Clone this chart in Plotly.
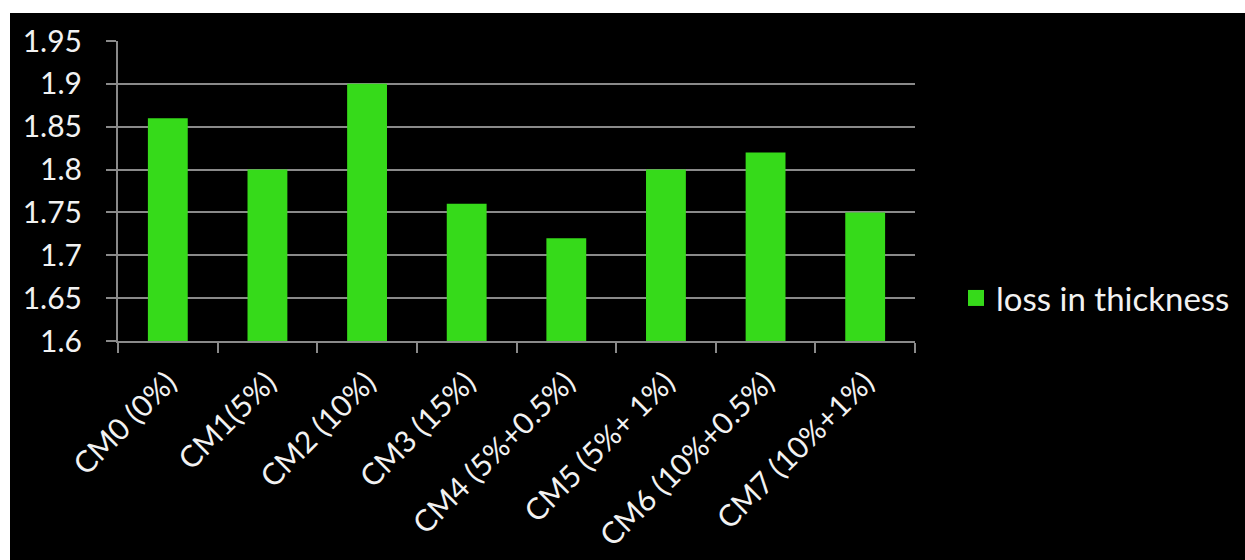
import plotly.graph_objects as go

# Loss in thickness per mix
categories = ["CM0 (0%)", "CM1(5%)", "CM2 (10%)", "CM3 (15%)",
              "CM4 (5%+0.5%)", "CM5 (5%+ 1%)", "CM6 (10%+0.5%)", "CM7 (10%+1%)"]
loss_in_thickness = [1.86, 1.80, 1.90, 1.76, 1.72, 1.80, 1.82, 1.75]
y_ticks = [1.6, 1.65, 1.7, 1.75, 1.8, 1.85, 1.9, 1.95]
y_tick_text = ["1.6", "1.65", "1.7", "1.75", "1.8", "1.85", "1.9", "1.95"]
series_name = "loss in thickness"

W, H = 1245, 560
L, R, T, B = 118, 330, 41, 219
pw, ph = W - L - R, H - T - B

GREEN = "#36DA1A"
GRID = "#8A8A8A"
TEXT = "#F2F2F2"
FONT = "Lato, 'Open Sans', sans-serif"

fig = go.Figure()
fig.add_trace(go.Bar(
    x=categories, y=loss_in_thickness, name=series_name, showlegend=False,
    legendgroup="s", marker=dict(color=GREEN, line=dict(width=0)),
))
# square legend swatch for the series
fig.add_trace(go.Scatter(
    x=[None], y=[None], mode="markers", name=series_name, legendgroup="s",
    marker=dict(symbol="square", size=20, color=GREEN),
))

# black canvas inset from the page edge
fig.add_shape(type="rect", xref="paper", yref="paper", layer="below",
              x0=(10 - L) / pw, x1=(W - L) / pw,
              y0=-(H - T - ph) / ph - 0.01, y1=1 + (T - 13) / ph,
              fillcolor="black", line=dict(width=0))

fig.update_layout(
    width=W, height=H,
    margin=dict(l=L, r=R, t=T, b=B, pad=0, autoexpand=False),
    paper_bgcolor="white", plot_bgcolor="black",
    bargap=0.6,
    font=dict(family=FONT, color=TEXT, size=30),
    showlegend=True,
    legend=dict(x=(956 - L) / pw, xanchor="left", y=(341 - 298) / ph, yanchor="middle",
                bgcolor="rgba(0,0,0,0)", font=dict(size=33, color=TEXT, family=FONT),
                itemsizing="trace", itemwidth=30),
    xaxis=dict(
        automargin=False,
        showgrid=False, showline=True, linecolor=GRID, linewidth=2,
        ticks="outside", tickson="boundaries", ticklen=10, tickwidth=2, tickcolor=GRID,
        tickangle=-45, ticklabelstandoff=10,
        tickfont=dict(size=30, color=TEXT, family=FONT),
    ),
    yaxis=dict(
        automargin=False,
        range=[1.6, 1.95], tickvals=y_ticks, ticktext=y_tick_text,
        showgrid=True, gridcolor=GRID, gridwidth=2,
        showline=True, linecolor=GRID, linewidth=2,
        ticks="outside", ticklen=10, tickwidth=2, tickcolor=GRID,
        ticklabelstandoff=18, tickfont=dict(size=30, color=TEXT, family=FONT),
        zeroline=False,
    ),
)

fig.write_html("out.html")
